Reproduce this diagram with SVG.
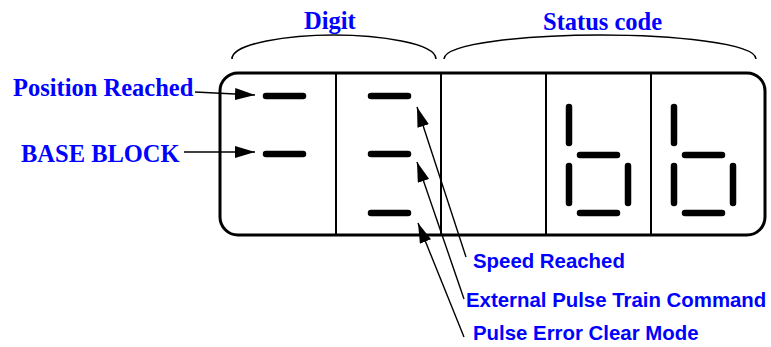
<svg xmlns="http://www.w3.org/2000/svg" width="771" height="347" viewBox="0 0 771 347">
<style>
.ser{font-family:"Liberation Serif","Times New Roman",serif;font-weight:bold;font-size:24.5px;fill:#0000ff}
.san{font-family:"Liberation Sans",Arial,sans-serif;font-weight:bold;font-size:20.4px;fill:#0000ff}
.seg{stroke:#000;stroke-width:6.5;stroke-linecap:round;fill:none}
.div{stroke:#000;stroke-width:2}
.brace{stroke:#000;stroke-width:1.6;fill:none}
.arr{stroke:#000;stroke-width:1.4;fill:none;marker-end:url(#ah)}
</style>
<defs>
<marker id="ah" markerUnits="userSpaceOnUse" markerWidth="20" markerHeight="12" refX="20" refY="6" orient="auto" viewBox="0 0 20 12">
<path d="M0,0 L20,6 L0,12 z" fill="#000"/>
</marker>
</defs>
<rect width="771" height="347" fill="#fff"/>
<g id="titles">
<text class="ser" x="304" y="29">Digit</text>
<text class="ser" x="543" y="30">Status code</text>
<path class="brace" d="M232,59 C232,43 290,35 334,35 C378,35 436,43 436,59"/>
<path class="brace" d="M444,59 C444,43 530,35 600,35 C670,35 756,43 756,59"/>
</g>
<g id="display">
<rect x="220" y="73" width="545" height="162" rx="18" ry="18" fill="none" stroke="#000" stroke-width="3"/>
<line class="div" x1="336" y1="73" x2="336" y2="235"/>
<line class="div" x1="441" y1="73" x2="441" y2="235"/>
<line class="div" x1="546" y1="73" x2="546" y2="235"/>
<line class="div" x1="651" y1="73" x2="651" y2="235"/>
</g>
<g id="digit1">
<line class="seg" x1="266" y1="96" x2="303" y2="96"/>
<line class="seg" x1="266" y1="154" x2="303" y2="154"/>
</g>
<g id="digit2">
<line class="seg" x1="371" y1="96" x2="408" y2="96"/>
<line class="seg" x1="371" y1="154" x2="408" y2="154"/>
<line class="seg" x1="371" y1="213" x2="408" y2="213"/>
</g>
<g id="status1"></g>
<g id="status2">
<line class="seg" x1="569" y1="107" x2="569" y2="143"/>
<line class="seg" x1="569" y1="166" x2="569" y2="203"/>
<line class="seg" x1="580" y1="155" x2="617" y2="155"/>
<line class="seg" x1="580" y1="213" x2="617" y2="213"/>
<line class="seg" x1="628" y1="166" x2="628" y2="203"/>
</g>
<g id="status3">
<line class="seg" x1="674" y1="107" x2="674" y2="143"/>
<line class="seg" x1="674" y1="166" x2="674" y2="203"/>
<line class="seg" x1="685" y1="155" x2="722" y2="155"/>
<line class="seg" x1="685" y1="213" x2="722" y2="213"/>
<line class="seg" x1="733" y1="166" x2="733" y2="203"/>
</g>
<g id="labels">
<text class="ser" x="13" y="96">Position Reached</text>
<text class="ser" x="21" y="162">BASE BLOCK</text>
<text class="san" x="473" y="268">Speed Reached</text>
<text class="san" x="466" y="307">External Pulse Train Command</text>
<text class="san" x="473" y="340">Pulse Error Clear Mode</text>
</g>
<g id="connectors">
<line class="arr" x1="195" y1="92" x2="255" y2="95"/>
<line class="arr" x1="184" y1="152" x2="255" y2="152"/>
<line class="arr" x1="466" y1="257" x2="417" y2="107"/>
<line class="arr" x1="464" y1="299" x2="417" y2="162"/>
<line class="arr" x1="464" y1="337" x2="418" y2="223"/>
</g>
</svg>
